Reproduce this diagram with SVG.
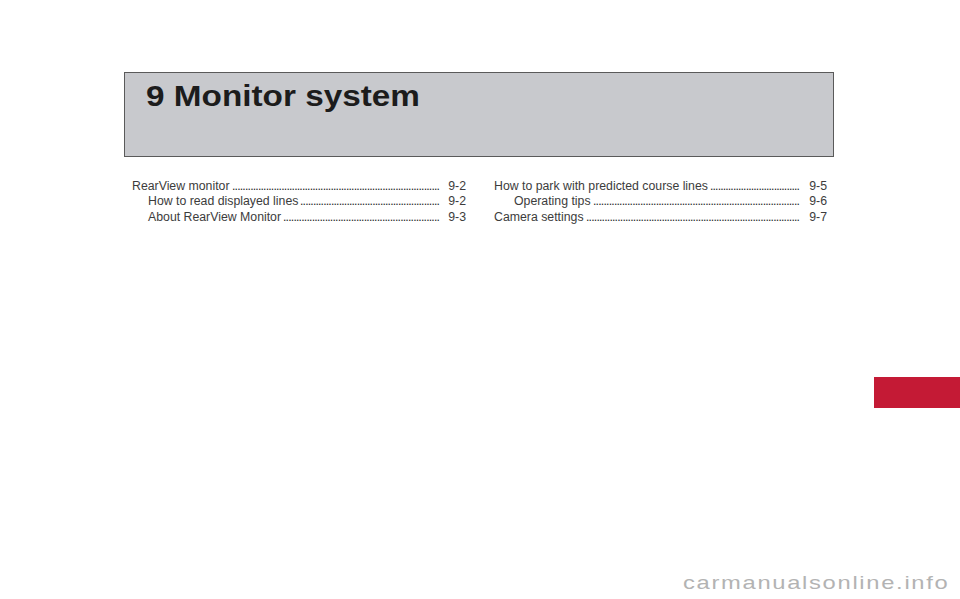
<svg xmlns="http://www.w3.org/2000/svg" width="960" height="599" viewBox="0 0 960 599">
<style>
.toc{font-family:"Liberation Sans",Arial,Helvetica,sans-serif;font-size:12.3px;fill:#3c3c3c}
.dots{fill:#2a2a2a}
.num{text-anchor:end}
.title{font-family:"Liberation Sans",Arial,Helvetica,sans-serif;font-weight:bold;font-size:29.5px;fill:#1c1c1c}
.wm{font-family:"Liberation Sans",Arial,Helvetica,sans-serif;font-size:19px;fill:#b3b3b3}
</style>
<rect width="960" height="599" fill="#ffffff"/>
<g id="header">
<rect x="124.5" y="72.5" width="709" height="84" fill="#c8c9cd" stroke="#5a5a5a" stroke-width="1"/>
<text class="title" x="146" y="106" textLength="274" lengthAdjust="spacingAndGlyphs">9 Monitor system</text>
</g>
<g id="toc-left">
<text class="toc" x="132" y="189.5">RearView monitor</text>
<text class="toc dots" x="232" y="189.5" textLength="208" lengthAdjust="spacing">................................................................................</text>
<text class="toc num" x="466" y="189.5">9-2</text>
<text class="toc" x="148" y="205">How to read displayed lines</text>
<text class="toc dots" x="300" y="205" textLength="140" lengthAdjust="spacing">......................................................</text>
<text class="toc num" x="466" y="205">9-2</text>
<text class="toc" x="148" y="220.5">About RearView Monitor</text>
<text class="toc dots" x="283" y="220.5" textLength="157" lengthAdjust="spacing">............................................................</text>
<text class="toc num" x="466" y="220.5">9-3</text>
</g>
<g id="toc-right">
<text class="toc" x="494" y="189.5">How to park with predicted course lines</text>
<text class="toc dots" x="710" y="189.5" textLength="90" lengthAdjust="spacing">...................................</text>
<text class="toc num" x="827" y="189.5">9-5</text>
<text class="toc" x="514" y="205">Operating tips</text>
<text class="toc dots" x="593" y="205" textLength="207" lengthAdjust="spacing">...............................................................................</text>
<text class="toc num" x="827" y="205">9-6</text>
<text class="toc" x="494" y="220.5">Camera settings</text>
<text class="toc dots" x="586" y="220.5" textLength="214" lengthAdjust="spacing">..................................................................................</text>
<text class="toc num" x="827" y="220.5">9-7</text>
</g>
<g id="tab">
<rect x="874" y="377" width="86" height="31" fill="#c41a35"/>
</g>
<g id="watermark">
<text class="wm" transform="translate(683,589) scale(1.25,1)" letter-spacing="1.35">carmanualsonline.info</text>
</g>
</svg>
